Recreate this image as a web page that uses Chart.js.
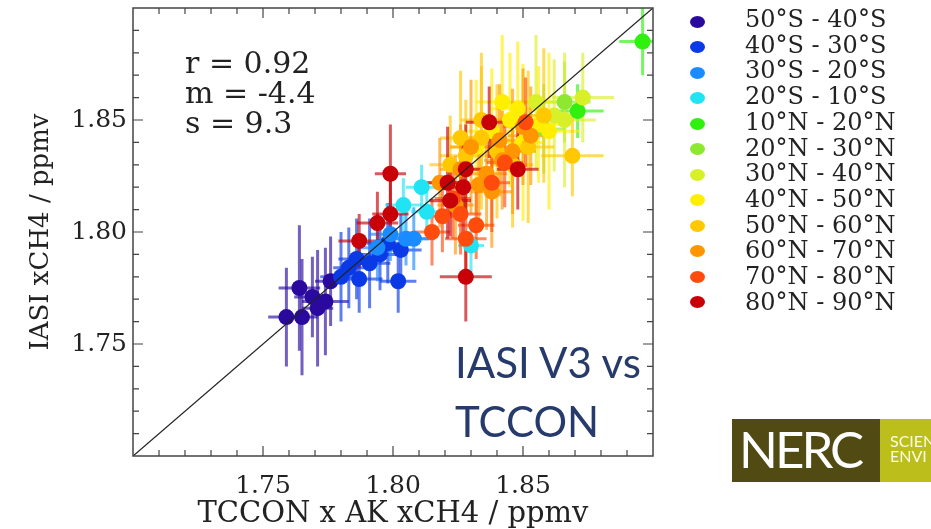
<!DOCTYPE html>
<html lang="en">
<head>
<meta charset="UTF-8">
<title>IASI V3 vs TCCON</title>
<script src="https://cdn.jsdelivr.net/npm/chart.js"></script>
<style>
  html, body { margin: 0; padding: 0; background: #fff; }
  #wrap { position: relative; width: 931px; height: 529px; overflow: hidden; }
  #chart { position: absolute; left: 0; top: 0; }
  .serif { font-family: 'DejaVu Serif', serif; color: #222; }
  #stats { position: absolute; left: 185px; top: 48px; font-size: 30px; line-height: 30px; white-space: pre; }
  .leg-dot { position: absolute; left: 690px; width: 15px; height: 12px; border-radius: 50%; }
  .leg-text { position: absolute; left: 745px; font-size: 24px; line-height: 26px; white-space: nowrap; }
  .note { position: absolute; left: 455px; font-family: Lato, sans-serif; font-size: 42px; line-height: 42px; color: #263a6b; white-space: nowrap; }
  #nerc { position: absolute; left: 732px; top: 419px; width: 148px; height: 63px; background: #514a13; }
  #nerc span { position: absolute; left: 7px; top: 4px; font-family: Lato, sans-serif; font-size: 51px; line-height: 51px; color: #fff; letter-spacing: -3px; }
  #nerc2 { position: absolute; left: 880px; top: 419px; width: 60px; height: 63px; background: #bcbf1b; }
  #nerc2 span { position: absolute; left: 10px; top: 14px; font-family: Lato, sans-serif; font-size: 16px; line-height: 15px; color: #fbfbe6; }
</style>
</head>
<body>
<div id="wrap">
  <canvas id="chart" width="931" height="529"></canvas>
  <div id="stats" class="serif">r = 0.92
m = -4.4
s = 9.3</div>
  <div id="legend"></div>
  <div class="note" style="top: 341px;">IASI V3 vs</div>
  <div class="note" style="top: 400px;">TCCON</div>
  <div id="nerc"><span>NERC</span></div>
  <div id="nerc2"><span>SCIEN<br>ENVI</span></div>
</div>

<script>
  // latitude bands and their colours
  const bandLabels = ['50°S - 40°S', '40°S - 30°S', '30°S - 20°S', '20°S - 10°S',
    '10°N - 20°N', '20°N - 30°N', '30°N - 40°N', '40°N - 50°N',
    '50°N - 60°N', '60°N - 70°N', '70°N - 80°N', '80°N - 90°N'];
  const bandColors = ['#2a0a9e', '#0a3ae6', '#1a8cff', '#20e4f4',
    '#30f010', '#8ee830', '#d8f028', '#ffee00',
    '#ffc800', '#ff9600', '#ff4c0c', '#c80008'];

  const axisMin = 1.70;
  const axisMax = 1.90;
  const tickValues = [1.75, 1.80, 1.85];
  const oneToOne = [1.70, 1.90];

  // each point: [TCCON x AK, IASI, TCCON error, IASI error]  (ppmv)
  const s50to40S = [[1.759, 1.762, 0.007, 0.022], [1.765, 1.762, 0.006, 0.026], [1.764, 1.775, 0.008, 0.028],
    [1.769, 1.771, 0.007, 0.018], [1.774, 1.769, 0.009, 0.024], [1.776, 1.778, 0.006, 0.020], [1.771, 1.766, 0.006, 0.026]];
  const s40to30S = [[1.780, 1.780, 0.008, 0.020], [1.786, 1.788, 0.007, 0.018], [1.787, 1.779, 0.009, 0.015],
    [1.791, 1.786, 0.008, 0.020], [1.795, 1.790, 0.007, 0.016], [1.798, 1.795, 0.008, 0.018],
    [1.802, 1.778, 0.007, 0.014], [1.803, 1.792, 0.008, 0.016], [1.783, 1.784, 0.006, 0.018]];
  const s30to20S = [[1.799, 1.799, 0.008, 0.012], [1.805, 1.797, 0.009, 0.012], [1.808, 1.797, 0.008, 0.014],
    [1.794, 1.793, 0.007, 0.015]];
  const s20to10S = [[1.804, 1.812, 0.007, 0.012], [1.811, 1.820, 0.006, 0.010], [1.813, 1.809, 0.006, 0.010],
    [1.830, 1.794, 0.005, 0.012]];
  const n10to20N = [[1.896, 1.885, 0.009, 0.015], [1.871, 1.854, 0.010, 0.012]];
  const n20to30N = [[1.866, 1.858, 0.010, 0.018], [1.858, 1.846, 0.008, 0.020]];
  const n30to40N = [[1.873, 1.860, 0.012, 0.020], [1.862, 1.852, 0.010, 0.025], [1.855, 1.858, 0.008, 0.030],
    [1.866, 1.850, 0.012, 0.030]];
  const n40to50N = [[1.845, 1.850, 0.010, 0.030], [1.850, 1.840, 0.008, 0.035], [1.838, 1.845, 0.009, 0.028],
    [1.856, 1.848, 0.010, 0.026], [1.832, 1.838, 0.010, 0.030], [1.860, 1.845, 0.012, 0.035],
    [1.848, 1.855, 0.010, 0.030], [1.842, 1.858, 0.010, 0.030]];
  const n50to60N = [[1.869, 1.834, 0.012, 0.018], [1.840, 1.836, 0.010, 0.030], [1.834, 1.842, 0.009, 0.032],
    [1.828, 1.834, 0.010, 0.025], [1.846, 1.830, 0.008, 0.028], [1.822, 1.830, 0.008, 0.022],
    [1.852, 1.838, 0.010, 0.034], [1.826, 1.842, 0.008, 0.030], [1.858, 1.852, 0.010, 0.030], [1.834, 1.850, 0.008, 0.030]];
  const n60to70N = [[1.841, 1.841, 0.008, 0.025], [1.853, 1.843, 0.009, 0.022], [1.833, 1.821, 0.008, 0.020],
    [1.842, 1.832, 0.007, 0.022], [1.826, 1.828, 0.008, 0.020], [1.836, 1.826, 0.008, 0.025],
    [1.818, 1.822, 0.008, 0.020], [1.846, 1.836, 0.009, 0.028], [1.830, 1.838, 0.008, 0.030],
    [1.838, 1.818, 0.008, 0.025], [1.850, 1.847, 0.008, 0.026], [1.824, 1.812, 0.007, 0.022]];
  const n70to80N = [[1.851, 1.849, 0.008, 0.020], [1.843, 1.831, 0.007, 0.020], [1.815, 1.800, 0.007, 0.015],
    [1.819, 1.807, 0.008, 0.016], [1.828, 1.797, 0.008, 0.018], [1.832, 1.803, 0.007, 0.015],
    [1.823, 1.815, 0.007, 0.018], [1.838, 1.822, 0.007, 0.022], [1.826, 1.808, 0.008, 0.018]];
  const n80to90N = [[1.799, 1.826, 0.006, 0.022], [1.799, 1.808, 0.007, 0.016], [1.794, 1.804, 0.008, 0.014],
    [1.787, 1.796, 0.008, 0.012], [1.821, 1.822, 0.008, 0.025], [1.827, 1.820, 0.007, 0.022],
    [1.828, 1.828, 0.008, 0.020], [1.822, 1.814, 0.008, 0.016], [1.848, 1.828, 0.008, 0.018],
    [1.837, 1.849, 0.009, 0.016], [1.828, 1.780, 0.010, 0.020]];

  const bands = [s50to40S, s40to30S, s30to20S, s20to10S, n10to20N, n20to30N,
    n30to40N, n40to50N, n50to60N, n60to70N, n70to80N, n80to90N];

  // legend (html)
  const legend = document.getElementById('legend');
  bandLabels.forEach((lab, i) => {
    const dot = document.createElement('div');
    dot.className = 'leg-dot';
    dot.style.top = (16 + i * 25.45) + 'px';
    dot.style.background = bandColors[i];
    legend.appendChild(dot);
    const txt = document.createElement('div');
    txt.className = 'leg-text serif';
    txt.style.top = (6 + i * 25.7) + 'px';
    txt.textContent = lab;
    legend.appendChild(txt);
  });

  // error bars under the points
  const errorBars = {
    id: 'errorBars',
    beforeDatasetsDraw(chart) {
      const { ctx, chartArea, scales: { x, y } } = chart;
      ctx.save();
      ctx.beginPath();
      ctx.rect(chartArea.left, chartArea.top, chartArea.right - chartArea.left, chartArea.bottom - chartArea.top);
      ctx.clip();
      ctx.lineWidth = 3;
      ctx.globalAlpha = 0.65;
      chart.data.datasets.forEach(ds => {
        if (!ds.errors) return;
        ctx.strokeStyle = ds.backgroundColor;
        ds.errors.forEach((e, j) => {
          const p = ds.data[j];
          const px = x.getPixelForValue(p.x), py = y.getPixelForValue(p.y);
          ctx.beginPath();
          ctx.moveTo(x.getPixelForValue(p.x - e[0]), py);
          ctx.lineTo(x.getPixelForValue(p.x + e[0]), py);
          ctx.moveTo(px, y.getPixelForValue(p.y - e[1]));
          ctx.lineTo(px, y.getPixelForValue(p.y + e[1]));
          ctx.stroke();
        });
      });
      ctx.restore();
    }
  };

  // box with inward ticks on all four sides
  const frame = {
    id: 'frame',
    afterDraw(chart) {
      const { ctx, chartArea: a, scales: { x, y } } = chart;
      ctx.save();
      ctx.strokeStyle = '#444';
      ctx.lineWidth = 1.5;
      ctx.strokeRect(a.left, a.top, a.right - a.left, a.bottom - a.top);
      ctx.lineWidth = 1.2;
      ctx.beginPath();
      for (let k = 171; k < 190; k++) {
        const len = k % 5 === 0 ? 10 : 6;
        const v = k / 100;
        const px = x.getPixelForValue(v), py = y.getPixelForValue(v);
        ctx.moveTo(px, a.bottom); ctx.lineTo(px, a.bottom - len);
        ctx.moveTo(px, a.top); ctx.lineTo(px, a.top + len);
        ctx.moveTo(a.left, py); ctx.lineTo(a.left + len, py);
        ctx.moveTo(a.right, py); ctx.lineTo(a.right - len, py);
      }
      ctx.stroke();
      ctx.restore();
    }
  };

  const datasets = bands.map((pts, i) => ({
    type: 'scatter',
    label: bandLabels[i],
    data: pts.map(p => ({ x: p[0], y: p[1] })),
    errors: pts.map(p => [p[2], p[3]]),
    backgroundColor: bandColors[i],
    borderWidth: 0,
    pointRadius: 8,
    pointHoverRadius: 8,
    order: bands.length - i + 1
  }));
  datasets.push({
    type: 'line',
    label: '1:1',
    data: oneToOne.map(v => ({ x: v, y: v })),
    borderColor: '#222',
    borderWidth: 1.3,
    pointRadius: 0,
    order: 0
  });

  const tickFont = { family: 'DejaVu Serif', size: 25 };

  new Chart(document.getElementById('chart'), {
    type: 'scatter',
    data: { datasets },
    plugins: [errorBars, frame],
    options: {
      responsive: false,
      animation: false,
      layout: { padding: { top: 6, right: 278, left: 0, bottom: 0 } },
      plugins: { legend: { display: false }, tooltip: { enabled: false } },
      scales: {
        x: {
          type: 'linear', min: axisMin, max: axisMax,
          afterBuildTicks: s => { s.ticks = tickValues.map(v => ({ value: v })); },
          afterFit: s => { s.height = 73; s.paddingLeft = 0; s.paddingRight = 0; },
          ticks: { callback: v => v.toFixed(2), font: tickFont, color: '#222', padding: 15, maxRotation: 0, autoSkip: false },
          grid: { display: false, drawTicks: false },
          border: { display: false },
          title: { display: true, text: 'TCCON x AK xCH4 / ppmv', font: { family: 'DejaVu Serif', size: 29 }, color: '#222', padding: { top: 0, bottom: -3 } }
        },
        y: {
          type: 'linear', min: axisMin, max: axisMax,
          afterBuildTicks: s => { s.ticks = tickValues.map(v => ({ value: v })); },
          afterFit: s => { s.width = 133; s.paddingTop = 0; s.paddingBottom = 0; },
          ticks: { callback: v => v.toFixed(2), font: tickFont, color: '#222', padding: 6, autoSkip: false },
          grid: { display: false, drawTicks: false },
          border: { display: false },
          title: { display: true, text: 'IASI xCH4 / ppmv', font: { family: 'DejaVu Serif', size: 26 }, color: '#222', padding: { top: 26, bottom: 0 } }
        }
      }
    }
  });
</script>
</body>
</html>
